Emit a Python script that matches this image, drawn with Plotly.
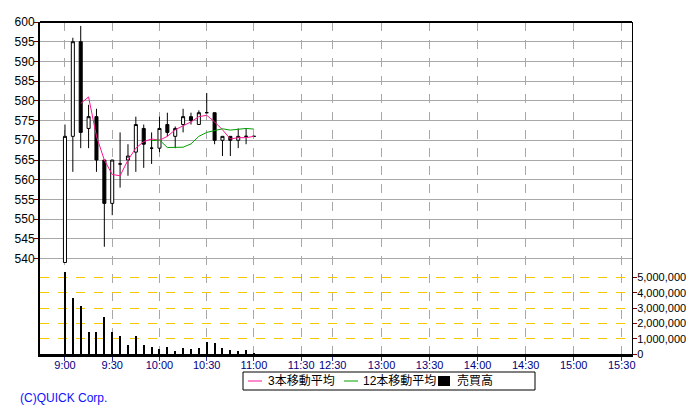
import plotly.graph_objects as go

# ---------------- data ----------------
times = ["9:00", "9:05", "9:10", "9:15", "9:20", "9:25", "9:30", "9:35", "9:40", "9:45",
         "9:50", "9:55", "10:00", "10:05", "10:10", "10:15", "10:20", "10:25", "10:30",
         "10:35", "10:40", "10:45", "10:50", "10:55", "11:00"]
opens = [539, 571, 595, 573, 576, 565, 554, 564, 565, 567, 573, 568, 568, 574, 571, 574,
         576, 574, 577, 577, 570, 571, 570, 571, 571]
highs = [574, 596, 599, 579, 578, 565, 565, 572, 569, 576, 574, 572, 576, 577, 573.5, 578,
         577, 577.6, 582, 577, 571, 571, 573, 573, 571]
lows = [539, 562, 568, 568, 562, 543, 551, 558, 561, 562, 563, 564, 567, 571, 568, 572,
        574, 574, 577, 569, 566, 566, 568, 569, 571]
closes = [571, 595, 572, 576, 565, 554, 565, 564, 566, 574, 569, 568, 573, 572, 573, 576,
          575, 577, 577, 570, 571, 570, 571, 571, 571]
volumes = [5400000, 3690000, 3170000, 1420000, 1420000, 2400000, 1420000, 1210000, 620000,
           1210000, 560000, 430000, 310000, 440000, 170000, 370000, 310000, 370000, 760000,
           700000, 370000, 240000, 170000, 240000, 60000]

tick_labels = ["9:00", "9:30", "10:00", "10:30", "11:00", "11:30", "12:30", "13:00", "13:30",
               "14:00", "14:30", "15:00", "15:30"]
price_ticks = [540, 545, 550, 555, 560, 565, 570, 575, 580, 585, 590, 595, 600]
volume_ticks = [0, 1000000, 2000000, 3000000, 4000000, 5000000]
legend_labels = ["3本移動平均", "12本移動平均", "売買高"]
legend_colors = ["#ff1493", "#00a000", "black"]

# ---------------- derived ----------------
idx = list(range(len(times)))


def moving_average(vals, n):
    return [sum(vals[i - n + 1:i + 1]) / n for i in range(n - 1, len(vals))]


ma3 = moving_average(closes, 3)
ma12 = moving_average(closes, 12)

# axis positions of the time ticks (5-minute bar units, lunch break compressed)
tick_pos = [0, 6, 12, 18, 24, 30, 34, 40.2, 46.3, 52.4, 58.5, 64.6, 70.7]

FONT = "Liberation Sans, Arial, Noto Sans CJK JP, sans-serif"

# page body has an 8px margin: figure is 8px smaller, plot area lands at x 40..632, y 22..354
W, H = 692, 412
ML, MR, MT, MB = 32, 68, 14, 66
PW, PH = W - ML - MR, H - MT - MB


def px_x(px):  # page pixel -> paper x
    return (px - 8 - ML) / PW


def px_y(py):  # page pixel -> paper y
    return (H - MB - (py - 8)) / PH


fig = go.Figure()

fig.add_trace(go.Bar(
    x=idx, y=volumes, yaxis="y2", width=0.14,
    marker=dict(color="black", line=dict(width=0)),
    name=legend_labels[2], showlegend=False, hoverinfo="skip",
))

fig.add_trace(go.Candlestick(
    x=idx, open=opens, high=highs, low=lows, close=closes,
    increasing=dict(line=dict(color="black", width=1), fillcolor="white"),
    decreasing=dict(line=dict(color="black", width=1), fillcolor="black"),
    whiskerwidth=0, showlegend=False, name="price",
))

fig.add_trace(go.Scatter(
    x=idx[2:], y=ma3, mode="lines", line=dict(color=legend_colors[0], width=1),
    name=legend_labels[0], showlegend=False,
))
fig.add_trace(go.Scatter(
    x=idx[11:], y=ma12, mode="lines", line=dict(color=legend_colors[1], width=1),
    name=legend_labels[1], showlegend=False,
))

# ---- custom legend box (matches the compact look of the original) ----
shapes = [
    dict(type="line", xref="paper", yref="paper", x0=0, x1=1, y0=1, y1=1,
         line=dict(color="black", width=2)),
    dict(type="rect", xref="paper", yref="paper",
         x0=px_x(243), x1=px_x(535), y0=px_y(390), y1=px_y(372),
         line=dict(color="black", width=1), fillcolor="white"),
    dict(type="line", xref="paper", yref="paper",
         x0=px_x(248), x1=px_x(262), y0=px_y(381), y1=px_y(381),
         line=dict(color=legend_colors[0], width=1)),
    dict(type="line", xref="paper", yref="paper",
         x0=px_x(344), x1=px_x(358), y0=px_y(381), y1=px_y(381),
         line=dict(color=legend_colors[1], width=1)),
    dict(type="rect", xref="paper", yref="paper",
         x0=px_x(438), x1=px_x(450), y0=px_y(386), y1=px_y(376),
         line=dict(color="black", width=0), fillcolor=legend_colors[2]),
]
legend_text_x = [266, 361, 455]
annotations = [
    dict(text=t, xref="paper", yref="paper", x=px_x(lx), y=px_y(381),
         xanchor="left", yanchor="middle", showarrow=False,
         font=dict(color="black", size=12, family=FONT))
    for t, lx in zip(legend_labels, legend_text_x)
]
annotations.append(dict(
    text="(C)QUICK Corp.", xref="paper", yref="paper",
    x=px_x(18), y=px_y(398), xanchor="left", yanchor="middle", showarrow=False,
    font=dict(color="#1010ff", size=12, family=FONT),
))

fig.update_layout(
    width=W, height=H,
    margin=dict(l=ML, r=MR, t=MT, b=MB, autoexpand=False),
    paper_bgcolor="white", plot_bgcolor="white",
    font=dict(family=FONT, size=11, color="black"),
    boxgap=0.45,
    bargap=0,
    showlegend=False,
    xaxis=dict(
        range=[-3.17, 72.0],
        tickmode="array", tickvals=tick_pos, ticktext=tick_labels,
        showgrid=True, gridcolor="#a8a8a8", griddash="dash", gridwidth=1,
        ticks="outside", ticklen=4, tickcolor="#333399", tickwidth=1,
        tickfont=dict(color="#000080", size=11, family=FONT),
        ticklabelstandoff=-5,
        showline=True, linecolor="black", linewidth=3,
        zeroline=False, rangeslider=dict(visible=False),
        fixedrange=True,
    ),
    yaxis=dict(
        range=[515.8, 600],
        tickmode="array", tickvals=price_ticks,
        showgrid=True, gridcolor="#a8a8a8", gridwidth=1,
        ticks="outside", ticklen=4, tickcolor="#800000",
        tickfont=dict(color="black", size=12, family=FONT),
        ticklabelstandoff=-3,
        showline=True, linecolor="black", linewidth=2,
        zeroline=False, fixedrange=True,
    ),
    yaxis2=dict(
        overlaying="y", side="right",
        range=[0, 21.73e6],
        tickmode="array", tickvals=volume_ticks,
        ticktext=[f"{v:,}" for v in volume_ticks],
        showgrid=True, gridcolor="#f5c800", griddash="dash", gridwidth=1,
        ticks="outside", ticklen=4, tickcolor="#800000",
        tickfont=dict(color="black", size=11, family=FONT),
        ticklabelstandoff=-2,
        showline=True, linecolor="black", linewidth=1,
        zeroline=False, fixedrange=True,
    ),
    shapes=shapes,
    annotations=annotations,
)

fig.write_html("out.html")
